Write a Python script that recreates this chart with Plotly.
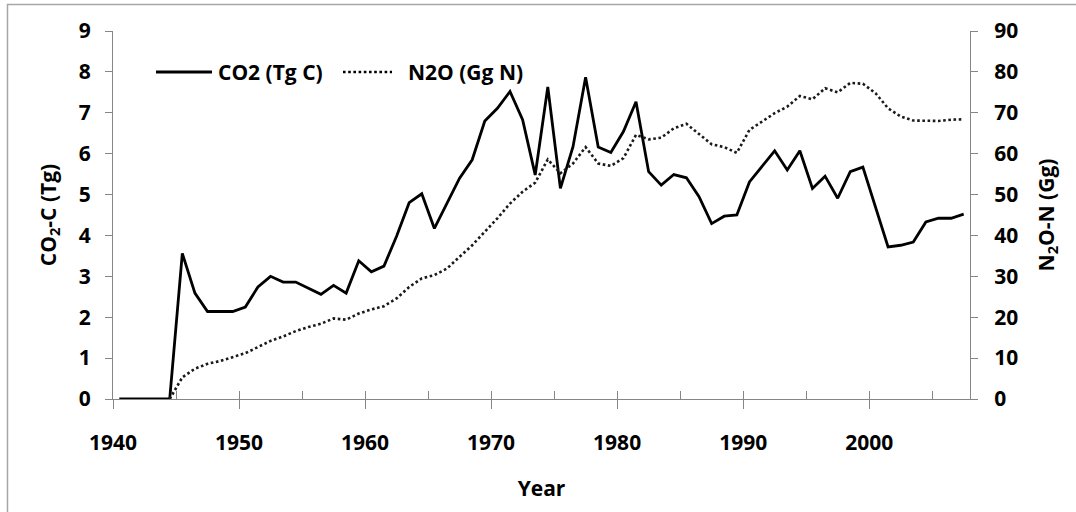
import plotly.graph_objects as go

# Annual emissions, plotted at mid-year
years = list(range(1940, 2008))
co2_tg_c = [
    0, 0, 0, 0, 0, 3.56, 2.59, 2.14, 2.14, 2.14,
    2.25, 2.74, 3.00, 2.86, 2.86, 2.70, 2.56, 2.78, 2.59, 3.38,
    3.11, 3.25, 3.98, 4.80, 5.02, 4.17, 4.80, 5.40, 5.85, 6.80,
    7.11, 7.52, 6.83, 5.48, 7.63, 5.15, 6.17, 7.87, 6.16, 6.03,
    6.54, 7.27, 5.56, 5.23, 5.49, 5.41, 4.95, 4.29, 4.47, 4.50,
    5.31, 5.68, 6.07, 5.60, 6.07, 5.15, 5.45, 4.91, 5.56, 5.67,
    4.70, 3.72, 3.76, 3.84, 4.33, 4.42, 4.42, 4.52,
]
n2o_gg_n = [
    None, None, None, None, 0, 5.3, 7.4, 8.6, 9.3, 10.2,
    11.2, 12.7, 14.2, 15.3, 16.6, 17.6, 18.4, 19.7, 19.4, 20.9,
    21.9, 22.7, 24.6, 27.4, 29.5, 30.3, 31.9, 34.8, 37.6, 40.9,
    44.2, 47.8, 50.7, 52.9, 58.6, 55.2, 57.6, 61.6, 57.6, 57.0,
    58.9, 64.6, 63.5, 63.9, 66.2, 67.3, 64.8, 62.3, 61.6, 60.2,
    65.8, 67.8, 69.9, 71.5, 74.1, 73.3, 76.0, 75.0, 77.3, 77.1,
    74.8, 71.1, 69.1, 68.1, 68.0, 68.0, 68.3, 68.4,
]
x_mid = [y + 0.5 for y in years]

W, H = 1076, 512
ML, MR, MT, MB = 113, 106, 31, 113
PW, PH = W - ML - MR, H - MT - MB

FONT = "Open Sans"
AX = "#868686"
TXT = "#000000"
FS = 21


def px_to_paper(px, py):
    return (px - ML) / PW, (H - MB - py) / PH


fig = go.Figure()
fig.add_trace(go.Scatter(
    x=x_mid, y=co2_tg_c, mode="lines", name="CO2 (Tg C)",
    line=dict(color="#000000", width=2.8), xaxis="x", yaxis="y",
    showlegend=False,
))
fig.add_trace(go.Scatter(
    x=x_mid, y=n2o_gg_n, mode="lines", name="N2O (Gg N)",
    line=dict(color="#1a1a1a", width=2.6, dash="2.6px,2.6px"),
    xaxis="x2", yaxis="y2", showlegend=False,
))

tickfont = dict(family=FONT, size=FS, color=TXT, weight="bold")
titlefont = dict(family=FONT, size=FS, color=TXT, weight="bold")

fig.update_layout(
    width=W, height=H,
    margin=dict(l=ML, r=MR, t=MT, b=MB, autoexpand=False),
    paper_bgcolor="white", plot_bgcolor="white",
    showlegend=False,
    xaxis=dict(
        range=[1940, 2008], tick0=1940, dtick=10, ticks="outside",
        ticklen=9, tickwidth=1.3, tickcolor=AX, showline=True,
        linecolor=AX, linewidth=1.3, showgrid=False, zeroline=False,
        tickfont=tickfont, ticklabelstandoff=16,
        title=dict(text="Year", font=titlefont, standoff=25),
    ),
    xaxis2=dict(
        range=[1940, 2008], tick0=1940, dtick=5, ticks="inside",
        ticklen=8, tickwidth=1.3, tickcolor=AX, showticklabels=False,
        showline=False, showgrid=False, zeroline=False,
        overlaying="x", anchor="y2", side="bottom",
    ),
    yaxis=dict(
        range=[0, 9], dtick=1, ticks="outside", ticklen=7,
        tickwidth=1.3, tickcolor=AX, showline=True, linecolor=AX,
        linewidth=1.3, showgrid=False, zeroline=False,
        tickfont=tickfont, ticklabelstandoff=10,
        title=dict(text="CO<sub>2</sub>-C (Tg)", font=titlefont, standoff=16),
    ),
    yaxis2=dict(
        range=[0, 90], dtick=10, ticks="outside", ticklen=7,
        tickwidth=1.3, tickcolor=AX, showline=True, linecolor=AX,
        linewidth=1.3, showgrid=False, zeroline=False,
        tickfont=tickfont, ticklabelstandoff=12,
        overlaying="y", side="right", anchor="x2",
        title=dict(text="N<sub>2</sub>O-N (Gg)", font=titlefont, standoff=21),
    ),
)

# Chart frame (top and left edges visible)
fx0, fy1 = px_to_paper(7.5, 4.5)
fx1, fy0 = px_to_paper(W + 5, H + 5)
fig.add_shape(type="rect", xref="paper", yref="paper",
              x0=fx0, x1=fx1, y0=fy0, y1=fy1,
              line=dict(color="#a6a6a6", width=1.5), layer="below")

# Legend drawn as sample lines with labels
ly = 72
for (x0, x1, dash, width, label, tx) in [
    (156, 212, "solid", 2.8, "CO2 (Tg C)", 216),
    (343, 392, "2.6px,2.6px", 2.6, "N2O (Gg N)", 406),
]:
    a0, b0 = px_to_paper(x0, ly)
    a1, _ = px_to_paper(x1, ly)
    fig.add_shape(type="line", xref="paper", yref="paper",
                  x0=a0, x1=a1, y0=b0, y1=b0,
                  line=dict(color="#000000", width=width, dash=dash))
    ta, tb = px_to_paper(tx, ly)
    fig.add_annotation(xref="paper", yref="paper", x=ta, y=tb,
                       text=label, showarrow=False, xanchor="left",
                       yanchor="middle", font=titlefont)

fig.write_html("out.html")
